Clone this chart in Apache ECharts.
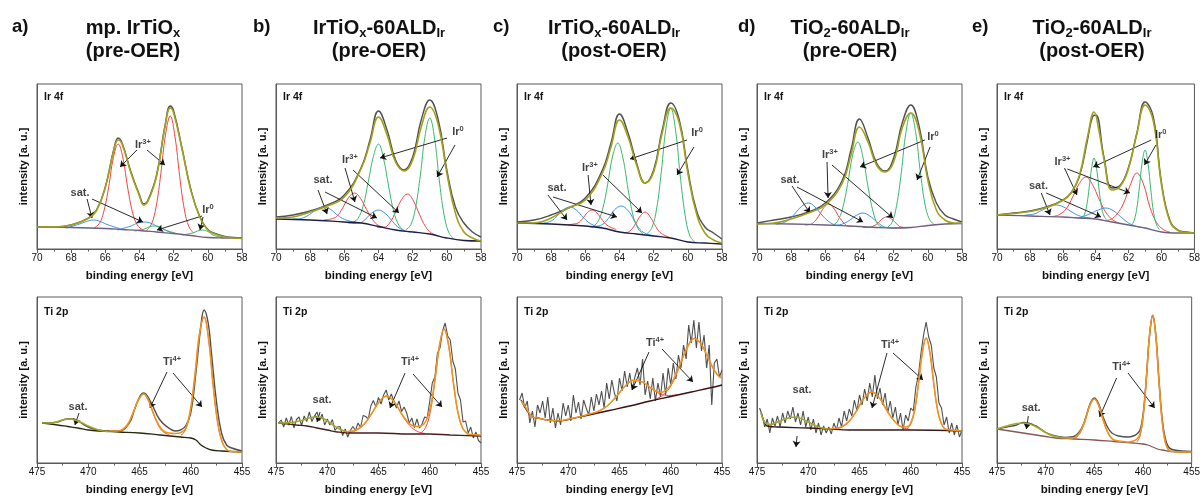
<!DOCTYPE html>
<html>
<head>
<meta charset="utf-8">
<script src="https://cdn.jsdelivr.net/npm/echarts@6/dist/echarts.min.js"></script>
<style>
html, body { margin: 0; padding: 0; background: #fff; }
#main { width: 1203px; height: 497px; }
</style>
</head>
<body>
<div id="main"></div>
<script>
// ---------- data (binding energy [eV], intensity in arbitrary units) ----------

// Ir 4f, panel a
var irA_meas = [[70,22],[69,22],[68,24],[67,31],[66.5,39.5],[66,62],[65.5,100],[65.25,111],[65,105],[64.5,77],[64,54],[63.75,45],[63.5,49],[63,74],[62.5,124],[62.2,143],[62,138],[61.5,100],[61,60],[60.5,33.5],[60,19.5],[59.5,15],[59,12.5],[58.5,11.5],[58,11]];
var irA_env = [[70,22],[69,22],[68,24],[67,30.5],[66.5,39],[66,62],[65.5,99],[65.25,109],[65,104],[64.5,76],[64,53],[63.75,44],[63.5,48],[63,73],[62.5,123],[62.2,141],[62,136],[61.5,99],[61,59],[60.5,33],[60,19],[59.5,14.5],[59,12],[58.5,11],[58,10.5]];
var irA_bg = [[70,22],[68,21.5],[66,20.5],[65,19.5],[64,18.5],[63,17],[62,15.5],[61,13.5],[60,11.5],[59,11],[58,10.8]];
var irA_red1 = [[66.65,21],[66.35,25.5],[66.08,38],[65.8,62.5],[65.53,91.4],[65.25,105],[64.97,91],[64.7,62],[64.42,37.5],[64.15,24.5],[63.85,19.5]];
var irA_red2 = [[63.6,18.5],[63.3,25],[63.03,42],[62.75,75.5],[62.48,114],[62.2,133],[61.92,112],[61.65,73],[61.37,39],[61.1,22],[60.8,15.5]];
var irA_blue1 = [[68.3,21],[67.5,25],[67.1,27.5],[66.7,29],[66.3,27.5],[65.9,24.5],[65.1,20]];
var irA_blue2 = [[65.3,19],[64.5,23],[64.1,26],[63.7,27],[63.3,25.5],[62.9,22],[62.1,16]];
var irA_green1 = [[64.3,18],[63.7,20],[63.4,22.5],[63.1,23],[62.8,22],[62.5,19],[61.9,16]];
var irA_green2 = [[61.5,14],[60.9,16],[60.6,18],[60.3,19],[60,17.5],[59.7,14],[59.1,11]];

// Ir 4f, panel b
var irB_meas = [[70,32],[69,34],[68,38],[67,44],[66,54],[65,82],[64.5,109],[64,138],[63.5,119],[63,89],[62.5,79],[62,92],[61.5,129],[61,149],[60.5,129],[60,79],[59.5,42],[59,26],[58.5,17],[58,12]];
var irB_env = [[70,31],[69,32],[68,37],[67,43],[66,52],[65,81],[64.5,106],[64,132],[63.5,114],[63,87],[62.5,78],[62,89],[61.5,122],[61,142],[60.5,124],[60,76],[59.5,36],[59,17],[58.5,11],[58,8]];
var irB_bg = [[70,30],[68,29],[66,27],[65,26],[64,22.5],[63,19],[62,17],[61,15],[60,11],[59,8.5],[58,8]];
var irB_green1 = [[65.5,26.5],[65.2,30.5],[64.9,43],[64.6,67],[64.3,92.5],[64,105],[63.7,90],[63.4,62],[63.1,37],[62.8,23.5],[62.5,18.5]];
var irB_green2 = [[62.4,19],[62.1,24.5],[61.83,41.5],[61.55,74],[61.28,112.5],[61,131],[60.72,111],[60.45,70],[60.17,35],[59.9,17],[59.6,10]];
var irB_red1 = [[67.2,29],[66.8,30],[66.45,32.5],[66.1,41],[65.75,51.5],[65.4,56],[65.05,50.5],[64.7,39.5],[64.35,29.5],[64,23.5],[63.6,21.5]];
var irB_red2 = [[64.1,22],[63.7,21.5],[63.35,26],[63,37],[62.65,49.5],[62.3,55],[61.95,48],[61.6,34.5],[61.25,22.5],[60.9,16],[60.5,13]];
var irB_blue1 = [[69,30],[68.7,30],[68.3,32],[67.95,35.5],[67.6,40],[67.2,42],[66.8,39.5],[66.45,34.5],[66.1,30.5],[65.7,28],[65.3,26.5]];
var irB_blue2 = [[65.8,26],[65.5,25.5],[65.1,26],[64.75,30],[64.4,36],[64,39],[63.6,35.5],[63.25,29],[62.9,22.5],[62.5,18.5],[62.1,16.5]];

// Ir 4f, panel c
var irC_meas = [[70,27],[69,29],[68,34],[67,41],[66,51],[65,79],[64.5,106],[64,135],[63.5,116],[63,86],[62.5,66],[62,79],[61.5,119],[61,146],[60.5,129],[60,79],[59.5,39],[59,22],[58.5,16],[58,10]];
var irC_env = [[70,26],[69,26],[68,31],[67,41],[66,49],[65,76],[64.5,102],[64,129],[63.5,112],[63,84],[62.5,66],[62,77],[61.5,116],[61,141],[60.5,126],[60,76],[59.5,36],[59,16],[58.5,9],[58,6]];
var irC_bg = [[70,26],[68,25],[66,23],[65,21],[64,17],[63,15],[62,13],[61,11],[60,7],[59,6],[58,5]];
var irC_green1 = [[65.6,22],[65.3,26.5],[65,39],[64.7,64],[64.4,93],[64.1,106],[63.8,91],[63.5,60],[63.2,33],[62.9,20],[62.6,15]];
var irC_green2 = [[62.4,15],[62.1,21.5],[61.83,40],[61.55,77.5],[61.28,121],[61,141],[60.72,119],[60.45,74],[60.17,35],[59.9,14],[59.6,7]];
var irC_red1 = [[67,24],[66.7,25],[66.43,26],[66.15,30.5],[65.88,36.5],[65.6,39],[65.32,36],[65.05,30],[64.78,24.5],[64.5,21.5],[64.2,19.5]];
var irC_red2 = [[63.9,16.5],[63.6,16.5],[63.33,19],[63.05,25.5],[62.78,33],[62.5,37],[62.22,32.5],[61.95,24.5],[61.68,17.5],[61.4,14],[61.1,12]];
var irC_blue1 = [[68.7,25.5],[68.4,26],[68,28],[67.65,33],[67.3,39],[66.9,42],[66.5,38.5],[66.15,32],[65.8,26.5],[65.4,23],[65,21.5]];
var irC_blue2 = [[65.7,22],[65.4,22.5],[65,24.5],[64.65,30.5],[64.3,39],[63.9,43],[63.5,38.5],[63.15,29],[62.8,19.5],[62.4,15],[62,13.5]];

// Ir 4f, panel d
var irD_meas = [[70,26],[69,29],[68,32],[67,37],[66,46],[65,69],[64.5,99],[64,130],[63.5,111],[63,86],[62.5,78],[62,91],[61.5,126],[61,144],[60.5,122],[60,72],[59.5,46],[59,34],[58.5,30],[58,27]];
var irD_env = [[70,25],[69,26],[68,30],[67,36],[66,44],[65,66],[64.5,94],[64,122],[63.5,107],[63,84],[62.5,77],[62,87],[61.5,121],[61,136],[60.5,117],[60,69],[59.5,39],[59,29],[58.5,26],[58,26]];
var irD_bg = [[70,25.5],[68,25],[66,24],[64,22.5],[63,21.5],[62,21],[61,21.5],[60,23.5],[59,25],[58,25.5]];
var irD_green1 = [[65.6,23.5],[65.3,27.5],[65,40],[64.7,64.5],[64.4,94],[64.1,107],[63.8,92],[63.5,62],[63.2,37],[62.9,24],[62.6,21.5]];
var irD_green2 = [[62.4,21],[62.1,26.5],[61.83,43.5],[61.55,77],[61.28,117],[61,136],[60.72,117.5],[60.45,78.5],[60.17,45],[59.9,29.5],[59.6,24]];
var irD_red1 = [[67.2,24],[66.9,24.5],[66.63,27.5],[66.35,34],[66.08,41.5],[65.8,45],[65.52,41],[65.25,33.5],[64.97,27],[64.7,23],[64.4,22.5]];
var irD_red2 = [[63.8,21.5],[63.5,21.5],[63.23,22.5],[62.95,25.5],[62.68,30],[62.4,32],[62.12,30],[61.85,25.5],[61.57,22],[61.3,21.5],[61,21.5]];
var irD_blue1 = [[68.9,25],[68.6,25.5],[68.2,28.5],[67.8,35],[67.4,42.5],[67,46],[66.6,42],[66.2,34],[65.8,27.5],[65.4,24],[65,23.5]];
var irD_blue2 = [[65.7,23.5],[65.4,23.5],[65,25],[64.6,28.5],[64.2,33.5],[63.8,36],[63.4,33],[63,27.5],[62.6,22.5],[62.2,21],[61.8,21]];

// Ir 4f, panel e
var irE_meas = [[70,34],[69,36],[68,38],[67,42],[66,49],[65.5,56],[65,72],[64.5,109],[64.2,132],[64,134],[63.5,92],[63,61],[62.5,64],[62,82],[61.5,116],[61,147],[60.5,132],[60,66],[59.5,29],[59,19],[58.5,17],[58,16]];
var irE_env = [[70,34],[69,35.5],[68,37.5],[67,41.5],[66,48.5],[65.5,56],[65,73],[64.5,112],[64.1,137],[63.8,118],[63.5,90],[63,59],[62.5,63],[62,81],[61.5,115],[61,144],[60.5,128],[60,64],[59.5,28],[59,18.5],[58.5,16.5],[58,16]];
var irE_bg = [[70,34],[68,33],[66,32],[65,31],[64,30],[63,27],[62,24],[61,21],[60,17],[59,16],[58,16]];
var irE_green1 = [[64.85,31],[64.7,34],[64.55,43],[64.4,61],[64.25,81],[64.1,91],[63.95,80.5],[63.8,60],[63.65,42],[63.5,33],[63.35,29.5]];
var irE_green2 = [[61.875,23],[61.7,27],[61.525,38.5],[61.35,61],[61.175,87],[61,99],[60.825,86],[60.65,59],[60.475,35.5],[60.3,24],[60.125,19.5]];
var irE_red1 = [[66.6,32.5],[66.2,34.5],[65.8,40],[65.4,52],[65,65.5],[64.6,72],[64.2,64.5],[63.8,50],[63.4,37],[63,29.5],[62.6,26]];
var irE_red2 = [[63.5,28.5],[63.1,29.5],[62.7,35],[62.3,46],[61.9,64],[61.5,76],[61.1,65],[60.7,41.5],[60.3,26.5],[59.9,19.5],[59.5,17]];
var irE_blue1 = [[68.4,33.5],[68.2,34],[67.75,35],[67.3,38.5],[66.85,42],[66.4,44],[65.95,42],[65.5,37.5],[65.05,33.5],[64.6,31.5],[64.2,30.5]];
var irE_blue2 = [[65.4,31.5],[65,31],[64.75,32.5],[64.3,35.5],[63.85,39],[63.4,41],[62.95,38.5],[62.5,32.5],[62.05,26.5],[61.6,23],[61.2,21.5]];

// Ti 2p, shared energy grid for the noisy spectra (b, c, d)
var tiGrid = [474.75,474.5,474.25,474,473.75,473.5,473.25,473,472.75,472.5,472.25,472,471.75,471.5,471.25,471,470.75,470.5,470.25,470,469.75,469.5,469.25,469,468.75,468.5,468.25,468,467.75,467.5,467.25,467,466.75,466.5,466.25,466,465.75,465.5,465.25,465,464.75,464.5,464.25,464,463.75,463.5,463.25,463,462.75,462.5,462.25,462,461.75,461.5,461.25,461,460.75,460.5,460.25,460,459.75,459.5,459.25,459,458.75,458.5,458.25,458,457.75,457.5,457.25,457,456.75,456.5,456.25,456,455.75,455.5,455.25,455];

// Ti 2p, panel a
var tiA_meas = [[474.5,40],[474,40],[473,41],[472,44],[471.5,44],[471,42],[470,36],[469,33],[468,32],[467,32],[466,40],[465.5,53],[465,66],[464.6,70],[464,63],[463,43],[462,34],[461.5,32],[461,33],[460.5,37],[460,50],[459.5,90],[459,138],[458.7,153],[458.3,140],[458,112],[457.5,62],[457,30],[456.5,18],[456,15],[455,12]];
var tiA_bg = [[474.5,40],[473,38],[472,36.5],[471,35],[470,33],[469,32],[467,31],[465,30],[463,28],[461,26],[460,25],[459.5,23],[459,18],[458.5,15],[458,13],[457,12],[455,11]];
var tiA_sat = [[474.5,40],[473.5,40],[472.7,42.5],[471.8,44],[470.9,41.5],[470,37],[469,33],[468,31.5]];
var tiA_red1 = [[467.1,31.5],[466.6,33.5],[466.1,39],[465.6,50.5],[465.1,63],[464.6,69],[464.1,61.5],[463.6,48],[463.1,36.5],[462.6,30.5],[462.1,28.5]];
var tiA_red2 = [[460.95,27.6],[460.5,33.4],[460.05,51.5],[459.6,86.5],[459.15,129],[458.7,146],[458.25,123],[457.8,76],[457.35,39],[456.9,20],[456.45,13]];
var tiA_fit = [[468,32],[467.1,32],[466.6,34],[466.1,39.5],[465.6,51],[465.1,63],[464.6,69],[464.1,62],[463.6,48.5],[463.1,37.5],[462.6,31.5],[462.1,30],[461.5,29.5],[460.95,30.5],[460.5,34.5],[460.05,52],[459.6,87],[459.15,129],[458.7,146],[458.25,123],[457.8,76],[457.35,39],[456.9,20],[456.45,13],[456,11.5],[455,11]];

// Ti 2p, panel b
var tiB_meas = [40,43,36,45,38,46.5,35,43.5,46,37.5,47,41.5,51,41.5,47,51,42.5,49,38,44,38,43.5,32.5,36,36.5,27.5,34,26,32.5,36.5,32.5,40,35.5,47.5,46.5,44,57,62.5,56,65.5,59,68,73,63,69,62,55,62,51.5,56,50,40,45,35.5,44,35,39,46,45,62,80,86,110,115,132,140,127,123,102,94,70,63,41,42,30,36,25,31,22.5,20];
var tiB_bg = [[474.75,40],[473,38],[472,37],[471,35],[470,33],[469,31],[468,30],[465,30],[462,29],[460,29],[458,28],[455,27]];
var tiB_sat = [[474.75,40],[473.5,40.5],[472.5,42.5],[471.8,45],[471.1,46],[470.3,44],[469.5,38.5],[468.7,33.5],[468,31]];
var tiB_red1 = [[467.95,30.5],[467.2,32.5],[466.45,38],[465.7,48.5],[464.95,61],[464.2,67],[463.45,61],[462.7,48],[461.95,37.5],[461.2,31.5],[460.45,29.5]];
var tiB_red2 = [[460.85,30],[460.4,35.5],[459.95,51],[459.5,81.5],[459.05,117],[458.6,134],[458.15,117],[457.7,81],[457.25,50.5],[456.8,35],[456.35,29.5]];
var tiB_fit = [[468,31.5],[467.2,33],[466.45,38.5],[465.7,49],[464.95,61],[464.2,67],[463.45,61],[462.7,48.5],[461.95,39],[461.5,37],[461.2,36.5],[460.85,37],[460.4,41.5],[459.95,55],[459.5,83],[459.05,117.5],[458.6,134],[458.15,117],[457.7,81],[457.25,50.5],[456.8,35],[456.35,29.5],[456,28.5],[455,28]];

// Ti 2p, panel c
var tiC_meas = [63,70,55,62,40,52,36,58,50,62,45,66,40,55,35,50,38,60,47,58,42,68,50,61,44,63,55,48,66,52,69,58,72,55,80,64,83,70,62,85,72,92,76,90,73,86,95,78,104,68,82,64,85,62,80,66,90,68,95,78,100,84,108,95,118,104,138,120,143,115,141,112,128,95,118,58,100,104,86,93];
var tiC_bg = [[474.6,63],[474.25,56],[474,52],[473.5,46],[473,45],[472,43],[471,42],[470,43.5],[468,48],[466,52.5],[464,57],[462,62],[460,66.5],[458,71],[456,75.5],[455,78]];
var tiC_red1 = [[467.85,48.7],[467,51.9],[466.15,57.5],[465.3,66.6],[464.45,76.9],[463.6,82.7],[462.75,80.8],[461.9,74.4],[461.05,69.2],[460.2,67.5],[459.35,68.3]];
var tiC_red2 = [[461.45,64],[460.7,68.3],[459.95,77.8],[459.2,94.8],[458.45,114.2],[457.7,124.5],[456.95,117.5],[456.2,101.5],[455.45,88],[455,85]];
var tiC_fit = [[474.6,62],[474.25,57],[474,53],[473.5,46],[473,45],[472,43],[471,42],[470,43.8],[469,46],[468,48.8],[467,52],[466.15,57.5],[465.3,66.6],[464.45,77],[463.6,82.7],[462.75,81],[461.9,75],[461.45,72],[461.05,70.7],[460.7,71.3],[460.2,75.5],[459.95,79],[459.2,96],[458.45,114.5],[457.7,124.5],[456.95,117.5],[456.2,101.5],[455.45,88],[455,85]];

// Ti 2p, panel d
var tiD_meas = [55,48,36,44,30,45,37,47,36,50,40,52,44,56,41,50,38,52,36,46,33,44,30,40,28,37,30,36,29,40,33,45,36,52,42,54,47,63,52,68,58,74,62,80,66,88,64,75,58,70,50,62,45,56,38,50,33,48,42,55,52,76,88,110,128,141,126,118,95,86,60,55,38,46,30,40,28,38,26,33];
var tiD_bg = [[474.6,50],[474.25,40],[474,37],[473,36],[470,35],[468,34],[466,33],[464,33],[460,33],[455,32]];
var tiD_sat = [[474.6,50],[474.2,40],[473.7,38.5],[472.8,42],[471.3,46],[470,41],[469,36],[468,34]];
var tiD_red1 = [[467.55,34],[466.8,35.5],[466.05,41],[465.3,52],[464.55,65],[463.8,71],[463.05,65],[462.3,52],[461.55,41],[460.8,35.5],[460.05,33.5]];
var tiD_red2 = [[460.375,34],[460,39],[459.625,52.5],[459.25,79],[458.875,110],[458.5,125],[458.125,110],[457.75,79],[457.375,52.5],[457,39],[456.625,34]];
var tiD_fit = [[468,34],[467.55,34.5],[466.8,36],[466.05,41.5],[465.3,52],[464.55,65],[463.8,71],[463.05,65],[462.3,52],[461.55,41.5],[460.8,36],[460.375,36],[460,40],[459.625,53],[459.25,79.5],[458.875,110],[458.5,125],[458.125,110],[457.75,79],[457.375,52.5],[457,39],[456.625,34],[456,33],[455,32]];

// Ti 2p, panel e
var tiE_meas = [[475,34],[474,36],[473,38],[472.3,40.5],[471,37],[470,30.5],[469,27],[468,25.5],[467,27],[466.35,34],[465.9,45],[465.45,59],[465,65],[464.55,59],[464.1,46],[463.65,36],[463.2,30],[462.5,27],[461.5,26],[461,27],[460.625,29],[460.3,33],[459.975,50],[459.65,86],[459.325,128],[459,147],[458.675,127],[458.35,82],[458.025,44],[457.7,24],[457.375,16],[457,13.5],[456,12],[455,11.5]];
var tiE_bg = [[475,34],[474,32.5],[473,31],[472,29.5],[471,28],[470,26.5],[469,25],[467,24],[465,23],[463,21.5],[461,20],[460,19],[459.5,18],[459,16],[458.5,14],[458,13],[457,11.5],[455,11]];
var tiE_sat = [[475,34],[474,37],[473,39.5],[472.3,40],[471.5,38.5],[470.5,33.5],[469.5,28],[468.5,25.5],[468,25]];
var tiE_red1 = [[467.25,24],[466.8,26],[466.35,32],[465.9,43.5],[465.45,57.5],[465,64],[464.55,57],[464.1,43],[463.65,31],[463.2,24],[462.75,22]];
var tiE_red2 = [[460.625,21],[460.3,27.5],[459.975,46.5],[459.65,84],[459.325,128],[459,148],[458.675,126],[458.35,80],[458.025,41],[457.7,20.5],[457.375,13]];
var tiE_fit = [[468,25],[467.25,25],[466.8,27],[466.35,33],[465.9,44],[465.45,58],[465,64],[464.55,57.5],[464.1,43.5],[463.65,31.5],[463.2,24.5],[462.75,22.5],[462,21.5],[461.5,21],[461,22],[460.625,24],[460.3,29],[459.975,47.5],[459.65,84.5],[459.325,128],[459,148],[458.675,126],[458.35,80],[458.025,41],[457.7,20.5],[457.375,13],[457,11.5],[456,11],[455,11]];

// annotation labels [x, y, text] and arrows [x1, y1, x2, y2], in data units
var irA_labels = [[63.8,104,'{m|Ir}{s|3+}'],[67.48,56,'{m|sat.}'],[59.99,39,'{m|Ir}{s|0}']];
var irA_arrows = [[64.15,99,65.14,82],[63.56,99,62.51,84],[67.07,50,66.78,31],[66.78,50,63.8,27],[60.34,33,62.98,19],[60.28,32,60.46,19]];
var irB_labels = [[65.67,89,'{m|Ir}{s|3+}'],[67.25,69,'{m|sat.}'],[59.35,117,'{m|Ir}{s|0}']];
var irB_arrows = [[65.96,81,65.38,47],[65.49,79,62.8,36],[67.54,59,67.01,35],[67.13,57,64.09,31],[59.99,111,63.91,91],[59.52,104,60.57,72]];
var irC_labels = [[65.73,81,'{m|Ir}{s|3+}'],[67.66,61,'{m|sat.}'],[59.46,116,'{m|Ir}{s|0}']];
var irC_arrows = [[65.84,74,65.67,44],[64.97,74,62.68,36],[68.19,54,67.07,29],[67.89,52,64.15,32],[60.05,109,63.38,90],[59.64,102,60.63,74]];
var irD_labels = [[65.73,94,'{m|Ir}{s|3+}'],[68.07,69,'{m|sat.}'],[59.7,112,'{m|Ir}{s|0}']];
var irD_arrows = [[65.9,87,65.84,51],[65.61,84,62.04,31],[67.95,63,66.9,36],[67.66,62,63.79,27],[60.17,109,63.97,82],[59.87,102,60.63,69]];
var irE_labels = [[66.02,87,'{m|Ir}{s|3+}'],[67.48,63,'{m|sat.}'],[60.05,114,'{m|Ir}{s|0}']];
var irE_arrows = [[65.9,81,65.14,54],[65.73,80,61.92,56],[67.31,56,66.78,34],[67.01,56,63.68,32],[60.63,109,64.15,82],[60.34,104,61.04,84]];
var tiA_labels = [[461.83,101,'{m|Ti}{s|4+}'],[471,56,'{m|sat.}']];
var tiA_arrows = [[462.32,91,463.98,55],[461.73,90,458.9,56],[470.9,50,471.3,38]];
var tiB_labels = [[461.93,101,'{m|Ti}{s|4+}'],[470.51,63,'{m|sat.}']];
var tiB_arrows = [[462.41,90,463.88,55],[461.63,89,458.8,56],[470.7,51,471,41]];
var tiC_labels = [[461.54,120,'{m|Ti}{s|4+}']];
var tiC_arrows = [[462.12,111,463.78,73],[460.85,114,457.83,81]];
var tiD_labels = [[462.02,118,'{m|Ti}{s|4+}'],[470.61,73,'{m|sat.}']];
var tiD_arrows = [[462.32,110,463.78,55],[461.73,110,458.8,83],[471.09,27,471.2,16]];
var tiE_labels = [[462.22,96,'{m|Ti}{s|4+}'],[471.49,55,'{m|sat.}']];
var tiE_arrows = [[462.71,85,464.46,46],[461.54,90,458.8,55],[471.78,47,471.98,34]];

// ---------- layout / style ----------
var FONT = '"Liberation Sans", Arial, Helvetica, sans-serif';
var LEFTS = [37, 276, 517, 757, 997];
var PW = 205;
var ROW_TOP = [84, 297];
var ROW_H = [165, 166];

var COL = {
  meas: '#4f4f4f', env: '#a2a11c', red: '#f24545', green: '#3cb872',
  blue: '#3f8fe8', orange: '#ef951f', sat: '#a4a826', ink: '#111'
};

var grids = [], xAxes = [], yAxes = [], series = [], graphics = [];

var LABEL_RICH = {
  m: { fontSize: 11, fontWeight: 'bold', color: COL.ink, fontFamily: FONT, lineHeight: 14 },
  s: { fontSize: 7.5, fontWeight: 'bold', color: COL.ink, fontFamily: FONT, lineHeight: 8, verticalAlign: 'top' }
};

function addPanel(row, col, yName, tag) {
  var i = grids.length;
  var ir = row === 0;
  grids.push({
    left: LEFTS[col], top: ROW_TOP[row], width: PW, height: ROW_H[row],
    show: true, borderColor: '#5a5a5a', borderWidth: 1, backgroundColor: 'transparent'
  });
  xAxes.push({
    gridIndex: i, type: 'value', inverse: true,
    min: ir ? 58 : 455, max: ir ? 70 : 475, interval: ir ? 2 : 5,
    axisLine: { show: true, onZero: false, lineStyle: { color: '#5a5a5a', width: 1 } },
    axisTick: { show: true, inside: false, length: 4, lineStyle: { color: '#5a5a5a' } },
    minorTick: { show: true, splitNumber: 2, length: 2.5, lineStyle: { color: '#5a5a5a' } },
    splitLine: { show: false }, minorSplitLine: { show: false },
    axisLabel: { fontSize: 10, color: COL.ink, margin: 4, fontFamily: FONT, hideOverlap: false },
    name: 'binding energy [eV]', nameLocation: 'middle', nameGap: 21,
    nameTextStyle: { fontSize: 11.5, fontWeight: 'bold', color: COL.ink, fontFamily: FONT }
  });
  yAxes.push({
    gridIndex: i, type: 'value', min: 0, max: ROW_H[row],
    axisLine: { show: true, lineStyle: { color: '#5a5a5a' } },
    axisTick: { show: false }, axisLabel: { show: false }, splitLine: { show: false },
    name: yName, nameLocation: 'middle', nameGap: 8,
    nameTextStyle: { fontSize: 11, fontWeight: 'bold', color: COL.ink, fontFamily: FONT }
  });
  // "Ir 4f" / "Ti 2p" tag in the upper left corner
  graphics.push({
    type: 'text', x: LEFTS[col] + 7, y: ROW_TOP[row] + (ir ? 13 : 15),
    style: { text: tag, fill: COL.ink, font: 'bold 10.5px ' + FONT, verticalAlign: 'middle' }
  });
  return i;
}

function curve(i, data, color, width, z, smooth) {
  series.push({
    type: 'line', xAxisIndex: i, yAxisIndex: i, data: data, symbol: 'none',
    smooth: smooth === undefined ? 0.4 : smooth,
    lineStyle: { color: color, width: width }, z: z, silent: true
  });
}

function notes(i, labels, arrows) {
  series.push({
    type: 'scatter', xAxisIndex: i, yAxisIndex: i, data: labels, symbolSize: 1,
    itemStyle: { color: 'rgba(0,0,0,0)' }, z: 30, silent: true,
    label: { show: true, position: 'inside', formatter: function (p) { return p.data[2]; }, rich: LABEL_RICH },
    markLine: {
      silent: true, symbol: ['none', 'arrow'], symbolSize: 6, animation: false,
      lineStyle: { color: COL.ink, width: 0.9, type: 'solid' }, label: { show: false },
      data: arrows.map(function (a) { return [{ coord: [a[0], a[1]] }, { coord: [a[2], a[3]] }]; })
    }
  });
}

function onGrid(ys) {
  return tiGrid.map(function (x, k) { return [x, ys[k]]; });
}

// ---------- Ir 4f row ----------
var irPanels = [
  { y: 'intensity [a. u.]', meas: irA_meas, env: irA_env, bg: irA_bg, bgc: '#6e5f80', red: [irA_red1, irA_red2], green: [irA_green1, irA_green2], blue: [irA_blue1, irA_blue2], lab: irA_labels, arr: irA_arrows },
  { y: 'Intensity [a. u.]', meas: irB_meas, env: irB_env, bg: irB_bg, bgc: '#1d1d48', red: [irB_red1, irB_red2], green: [irB_green1, irB_green2], blue: [irB_blue1, irB_blue2], lab: irB_labels, arr: irB_arrows },
  { y: 'Intensity [a. u.]', meas: irC_meas, env: irC_env, bg: irC_bg, bgc: '#1d1d48', red: [irC_red1, irC_red2], green: [irC_green1, irC_green2], blue: [irC_blue1, irC_blue2], lab: irC_labels, arr: irC_arrows },
  { y: 'intensity [a. u.]', meas: irD_meas, env: irD_env, bg: irD_bg, bgc: '#6e5f80', red: [irD_red1, irD_red2], green: [irD_green1, irD_green2], blue: [irD_blue1, irD_blue2], lab: irD_labels, arr: irD_arrows },
  { y: 'intensity [a. u.]', meas: irE_meas, env: irE_env, bg: irE_bg, bgc: '#6e5f80', red: [irE_red1, irE_red2], green: [irE_green1, irE_green2], blue: [irE_blue1, irE_blue2], lab: irE_labels, arr: irE_arrows }
];
irPanels.forEach(function (p, col) {
  var i = addPanel(0, col, p.y, 'Ir 4f');
  curve(i, p.meas, COL.meas, 1.4, 2, 0.45);
  p.blue.forEach(function (d) { curve(i, d, COL.blue, 1, 3); });
  p.red.forEach(function (d) { curve(i, d, COL.red, 1, 3); });
  p.green.forEach(function (d) { curve(i, d, COL.green, 1, 3); });
  curve(i, p.bg, p.bgc, 1.3, 4);
  curve(i, p.env, COL.env, 1.6, 5, 0.45);
  notes(i, p.lab, p.arr);
});

// ---------- Ti 2p row ----------
var tiPanels = [
  { y: 'intensity [a. u.]', meas: tiA_meas, smooth: 0.45, bg: tiA_bg, bgc: '#2a2a12', sat: tiA_sat, red: [tiA_red1, tiA_red2], fit: tiA_fit, lab: tiA_labels, arr: tiA_arrows },
  { y: 'Intensity [a. u.]', meas: onGrid(tiB_meas), smooth: false, bg: tiB_bg, bgc: '#4a1c1c', sat: tiB_sat, red: [tiB_red1, tiB_red2], fit: tiB_fit, lab: tiB_labels, arr: tiB_arrows },
  { y: 'Intensity [a. u.]', meas: onGrid(tiC_meas), smooth: false, bg: tiC_bg, bgc: '#3c0f0f', sat: null, red: [tiC_red1, tiC_red2], fit: tiC_fit, lab: tiC_labels, arr: tiC_arrows },
  { y: 'intensity [a. u.]', meas: onGrid(tiD_meas), smooth: false, bg: tiD_bg, bgc: '#3a1818', sat: tiD_sat, red: [tiD_red1, tiD_red2], fit: tiD_fit, lab: tiD_labels, arr: tiD_arrows },
  { y: 'intensity [a. u.]', meas: tiE_meas, smooth: 0.4, bg: tiE_bg, bgc: '#8a5656', sat: tiE_sat, red: [tiE_red1, tiE_red2], fit: tiE_fit, lab: tiE_labels, arr: tiE_arrows }
];
tiPanels.forEach(function (p, col) {
  var i = addPanel(1, col, p.y, 'Ti 2p');
  curve(i, p.meas, COL.meas, p.smooth === false ? 1.1 : 1.4, 2, p.smooth);
  p.red.forEach(function (d) { curve(i, d, COL.red, 1, 3); });
  curve(i, p.bg, p.bgc, 1.3, 4);
  if (p.sat) curve(i, p.sat, COL.sat, 1.6, 5);
  curve(i, p.fit, COL.orange, 1.6, 6, 0.4);
  notes(i, p.lab, p.arr);
});

// ---------- panel letters and titles ----------
var TITLE_RICH = {
  t: { fontSize: 20, fontWeight: 'bold', fontFamily: FONT, fill: COL.ink, lineHeight: 23 },
  b: { fontSize: 13, fontWeight: 'bold', fontFamily: FONT, fill: COL.ink, lineHeight: 12, verticalAlign: 'bottom' }
};
var titles = [
  { letter: 'a)', lx: 12, cx: 133, text: '{t|mp. IrTiO}{b|x}\n{t|(pre-OER)}' },
  { letter: 'b)', lx: 253, cx: 379, text: '{t|IrTiO}{b|x}{t|-60ALD}{b|Ir}\n{t|(pre-OER)}' },
  { letter: 'c)', lx: 493, cx: 614, text: '{t|IrTiO}{b|x}{t|-60ALD}{b|Ir}\n{t|(post-OER)}' },
  { letter: 'd)', lx: 738, cx: 850, text: '{t|TiO}{b|2}{t|-60ALD}{b|Ir}\n{t|(pre-OER)}' },
  { letter: 'e)', lx: 972, cx: 1092, text: '{t|TiO}{b|2}{t|-60ALD}{b|Ir}\n{t|(post-OER)}' }
];
titles.forEach(function (t) {
  graphics.push({
    type: 'text', x: t.lx, y: 27,
    style: { text: t.letter, fill: COL.ink, font: 'bold 18.5px ' + FONT, verticalAlign: 'middle' }
  });
  graphics.push({
    type: 'text', x: t.cx, y: 17,
    style: { text: t.text, rich: TITLE_RICH, align: 'center', verticalAlign: 'top' }
  });
});

var myChart = echarts.init(document.getElementById('main'), null, { renderer: 'canvas' });
myChart.setOption({
  animation: false,
  backgroundColor: '#fff',
  grid: grids,
  xAxis: xAxes,
  yAxis: yAxes,
  series: series,
  graphic: graphics
});
</script>
</body>
</html>
